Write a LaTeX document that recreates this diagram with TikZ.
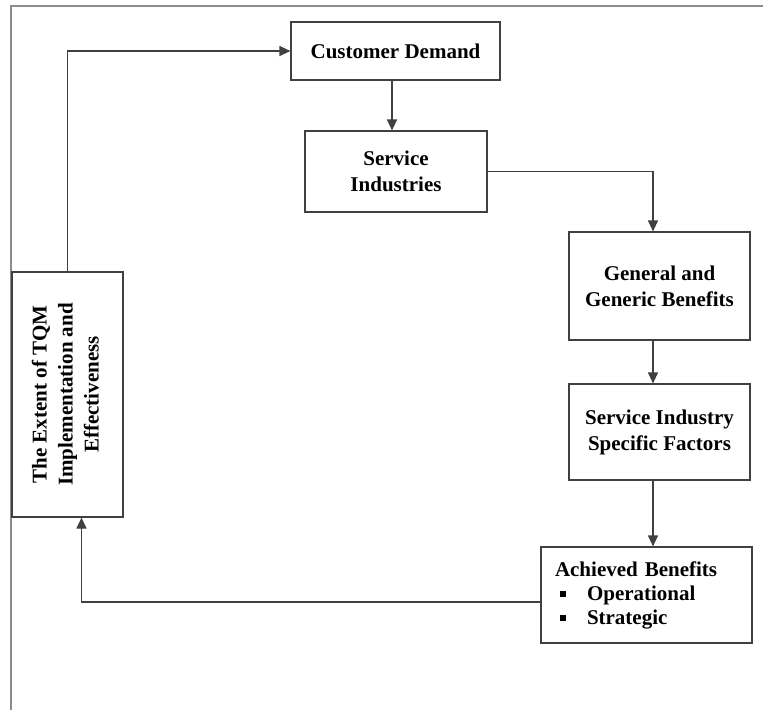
\documentclass[tikz,border=0pt]{standalone}
\usepackage{fontspec}
\setmainfont{Liberation Serif}
\usetikzlibrary{arrows.meta,positioning}

\tikzset{
    stage/.style={draw=black!75, line width=1.2pt, align=center, inner sep=2pt,
        font=\bfseries\fontsize{21}{26}\selectfont},
    flow/.style={draw=black!75, line width=1.2pt, -{Triangle[length=11pt,width=10pt]}},
}
\newcommand{\sqbul}{\rule[3pt]{6pt}{6pt}}

\begin{document}
\begin{tikzpicture}[x=1pt,y=-1pt]
    \useasboundingbox (0,0) rectangle (763,710);
    \draw[black!45, line width=1.5pt] (11,710) -- (11,6) -- (763,6);

    \node[stage, minimum width=209pt, minimum height=58pt] (demand) at (395.5,51) {Customer Demand};
    \node[stage, minimum width=182pt, minimum height=81pt] (industries) at (396,171.5) {Service\\Industries};
    \node[stage, minimum width=181pt, minimum height=108pt] (general) at (659.5,286) {General and\\Generic Benefits};
    \node[stage, minimum width=181pt, minimum height=96pt] (specific) at (659.5,432) {Service Industry\\Specific Factors};
    \node[stage, align=left, inner xsep=14pt, text width=183pt, minimum height=96pt] (achieved) at (646.5,595)
        {Achieved Benefits\\[-2pt] \hspace*{5pt}\sqbul\hspace{21pt}Operational\\[-2pt] \hspace*{5pt}\sqbul\hspace{21pt}Strategic};
    \node[stage, minimum width=111pt, minimum height=245pt] (tqm) at (67.5,394.5)
        {\rotatebox{90}{\begin{tabular}{@{}c@{}}The Extent of TQM\\ Implementation and\\ Effectiveness\end{tabular}}};

    % feedback loop
    \draw[flow] (tqm.north) |- (demand.west);
    \draw[flow] ([xshift=-3.5pt]demand.south) -- ([xshift=-3.5pt]demand.south |- industries.north);
    \draw[flow] (industries.east) -| ([xshift=-6.5pt]general.north);
    \draw[flow] ([xshift=-6.5pt]general.south) -- ([xshift=-6.5pt]specific.north);
    \draw[flow] ([xshift=-6.5pt]specific.south) -- ([xshift=6.5pt]achieved.north);
    \draw[flow] ([yshift=-7pt]achieved.west) -| ([xshift=14pt]tqm.south);
\end{tikzpicture}
\end{document}
